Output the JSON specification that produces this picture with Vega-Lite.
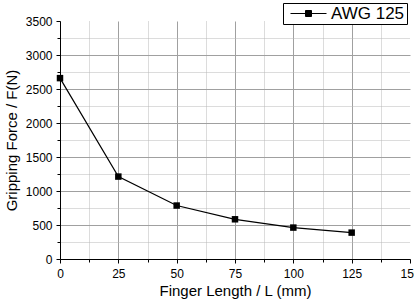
{
  "$schema": "https://vega.github.io/schema/vega-lite/v6.json",
  "autosize": "none",
  "width": 350,
  "height": 238,
  "padding": {"left": 60, "top": 21, "right": 4, "bottom": 45},
  "background": "white",
  "config": {
    "view": {"stroke": null},
    "font": "Liberation Sans",
    "axis": {
      "domainColor": "black",
      "domainWidth": 1,
      "tickColor": "black",
      "labelColor": "black",
      "titleColor": "black",
      "labelFontSize": 12,
      "titleFontSize": 15,
      "titleFontWeight": "normal",
      "labelFont": "Liberation Sans",
      "titleFont": "Liberation Sans"
    }
  },
  "data": {
    "values": [
      {"L": 0, "F": 2660, "series": "AWG 125"},
      {"L": 25, "F": 1212, "series": "AWG 125"},
      {"L": 50, "F": 786, "series": "AWG 125"},
      {"L": 75, "F": 584, "series": "AWG 125"},
      {"L": 100, "F": 462, "series": "AWG 125"},
      {"L": 125, "F": 388, "series": "AWG 125"}
    ]
  },
  "encoding": {
    "x": {
      "field": "L",
      "type": "quantitative",
      "scale": {"domain": [0, 150], "nice": false},
      "axis": {
        "title": "Finger Length / L (mm)",
        "values": [0, 12.5, 25, 37.5, 50, 62.5, 75, 87.5, 100, 112.5, 125, 137.5, 150],
        "labelExpr": "datum.value % 25 === 0 ? datum.label : ''",
        "labelPadding": 5,
        "titlePadding": 4,
        "labelFlush": false,
        "tickSize": {"condition": {"test": "datum.value % 25 === 0", "value": 4}, "value": 3},
        "grid": true,
        "gridColor": {"condition": {"test": "datum.value % 25 === 0", "value": "#a0a0a0"}, "value": "#b8b8b8"},
        "gridDash": {"condition": {"test": "datum.value % 25 === 0", "value": []}, "value": [1, 1]},
        "gridOpacity": {"condition": {"test": "datum.value === 150", "value": 0}, "value": 1}
      }
    },
    "y": {
      "field": "F",
      "type": "quantitative",
      "scale": {"domain": [0, 3500], "nice": false},
      "axis": {
        "title": "Gripping Force / F(N)",
        "values": [0, 250, 500, 750, 1000, 1250, 1500, 1750, 2000, 2250, 2500, 2750, 3000, 3250, 3500],
        "labelExpr": "datum.value % 500 === 0 ? datum.label : ''",
        "format": "d",
        "labelPadding": 4,
        "titlePadding": 6,
        "labelFlush": false,
        "tickSize": {"condition": {"test": "datum.value % 500 === 0", "value": 4}, "value": 3},
        "grid": true,
        "gridColor": {"condition": {"test": "datum.value % 500 === 0", "value": "#a0a0a0"}, "value": "#b8b8b8"},
        "gridDash": {"condition": {"test": "datum.value % 500 === 0", "value": []}, "value": [1, 1]},
        "gridOpacity": {"condition": {"test": "datum.value === 3500", "value": 0}, "value": 1}
      }
    }
  },
  "layer": [
    {
      "mark": {"type": "line", "strokeWidth": 1.2},
      "encoding": {
        "color": {
          "field": "series",
          "type": "nominal",
          "scale": {"range": ["black"]},
          "legend": {
            "title": null,
            "orient": "none",
            "legendX": 223,
            "legendY": -18,
            "fillColor": "white",
            "strokeColor": "black",
            "padding": 2,
            "symbolType": "M -6 0 H 6 M -1 -1 H 1 V 1 H -1 Z",
            "symbolSize": 36,
            "symbolOffset": 15,
            "symbolStrokeWidth": 1,
            "symbolStrokeColor": "black",
            "symbolFillColor": "black",
            "labelOffset": 14,
            "labelFontSize": 17,
            "labelFont": "Liberation Sans",
            "labelColor": "black"
          }
        }
      }
    },
    {
      "mark": {"type": "point", "shape": "square", "filled": true, "size": 42, "color": "black", "opacity": 1}
    }
  ]
}
